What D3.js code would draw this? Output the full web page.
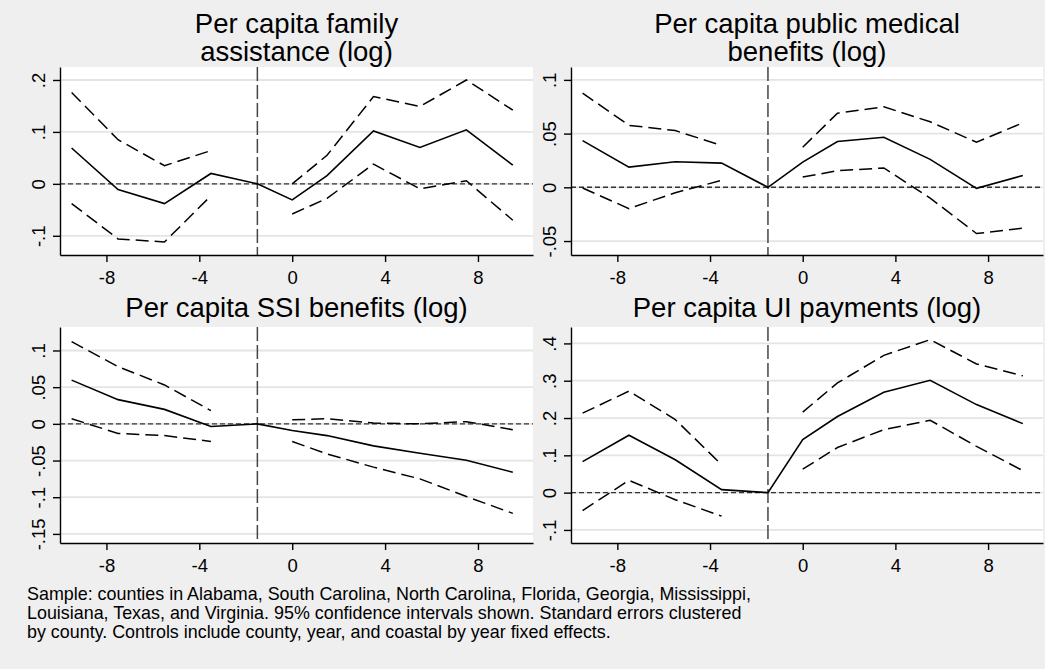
<!DOCTYPE html>
<html>
<head>
<meta charset="utf-8">
<script src="https://cdn.jsdelivr.net/npm/d3@7"></script>
<style>
  body { margin: 0; background: #efefef; }
  svg { display: block; font-family: "Liberation Sans", Arial, sans-serif; }
</style>
</head>
<body>
<svg id="chart" width="1045" height="669"></svg>
<script>
// event-time bins (years relative to the shock), shared by all panels
var bins = [-9.5, -7.5, -5.5, -3.5, -1.5, 0, 1.5, 3.5, 5.5, 7.5, 9.5];
var pre_bins = [-9.5, -7.5, -5.5, -3.5];
var post_bins = [0, 1.5, 3.5, 5.5, 7.5, 9.5];
var omitted_bin = -1.5;
var x_ticks = [-8, -4, 0, 4, 8];

var titles = [
    ["Per capita family", "assistance (log)"],
    ["Per capita public medical", "benefits (log)"],
    ["Per capita SSI benefits (log)"],
    ["Per capita UI payments (log)"]
];

// point estimates
var coef_family = [0.069, -0.011, -0.038, 0.020, 0, -0.031, 0.016, 0.102, 0.070, 0.104, 0.036];
var coef_medical = [0.0435, 0.0188, 0.0238, 0.0225, 0, 0.0235, 0.0426, 0.0466, 0.026, -0.001, 0.011];
var coef_ssi = [0.0596, 0.033, 0.0197, -0.0037, 0, -0.009, -0.016, -0.030, -0.040, -0.0495, -0.066];
var coef_ui = [0.083, 0.154, 0.088, 0.008, 0, 0.142, 0.204, 0.269, 0.301, 0.236, 0.185];

// 95% confidence bounds, before and after
var upper_pre_family = [0.176, 0.085, 0.035, 0.064];
var lower_pre_family = [-0.038, -0.106, -0.112, -0.023];
var upper_post_family = [0.0, 0.055, 0.168, 0.149, 0.200, 0.142];
var lower_post_family = [-0.058, -0.028, 0.038, -0.0096, 0.006, -0.070];

var upper_pre_medical = [0.0877, 0.0577, 0.0528, 0.039];
var lower_pre_medical = [-0.0006, -0.0198, -0.005, 0.0065];
var upper_post_medical = [0.0373, 0.069, 0.075, 0.061, 0.042, 0.060];
var lower_post_medical = [0.0096, 0.0154, 0.018, -0.010, -0.043, -0.038];

var upper_pre_ssi = [0.112, 0.078, 0.053, 0.018];
var lower_pre_ssi = [0.007, -0.013, -0.016, -0.024];
var upper_post_ssi = [0.0055, 0.007, 0.001, 0.0, 0.003, -0.008];
var lower_post_ssi = [-0.024, -0.041, -0.059, -0.075, -0.099, -0.122];

var upper_pre_ui = [0.213, 0.272, 0.196, 0.075];
var lower_pre_ui = [-0.048, 0.033, -0.019, -0.063];
var upper_post_ui = [0.216, 0.294, 0.368, 0.410, 0.345, 0.313];
var lower_post_ui = [0.063, 0.121, 0.169, 0.194, 0.124, 0.059];

// y axis ticks and their Stata-style labels
var y_ticks_family = [-0.1, 0, 0.1, 0.2];
var y_labels_family = ["-.1", "0", ".1", ".2"];
var y_ticks_medical = [-0.05, 0, 0.05, 0.1];
var y_labels_medical = ["-.05", "0", ".05", ".1"];
var y_ticks_ssi = [-0.15, -0.1, -0.05, 0, 0.05, 0.1];
var y_labels_ssi = ["-.15", "-.1", "-.05", "0", ".05", ".1"];
var y_ticks_ui = [-0.1, 0, 0.1, 0.2, 0.3, 0.4];
var y_labels_ui = ["-.1", "0", ".1", ".2", ".3", ".4"];

var footnote = [
    "Sample: counties in Alabama, South Carolina, North Carolina, Florida, Georgia, Mississippi,",
    "Louisiana, Texas, and Virginia. 95% confidence intervals shown. Standard errors clustered",
    "by county. Controls include county, year, and coastal by year fixed effects."
];

var panels = [
    {title: titles[0], coef: coef_family, up_pre: upper_pre_family, lo_pre: lower_pre_family,
     up_post: upper_post_family, lo_post: lower_post_family, ticks: y_ticks_family, labels: y_labels_family,
     ydom: [-0.137, 0.225], col: 0, row: 0},
    {title: titles[1], coef: coef_medical, up_pre: upper_pre_medical, lo_pre: lower_pre_medical,
     up_post: upper_post_medical, lo_post: lower_post_medical, ticks: y_ticks_medical, labels: y_labels_medical,
     ydom: [-0.063, 0.112], col: 1, row: 0},
    {title: titles[2], coef: coef_ssi, up_pre: upper_pre_ssi, lo_pre: lower_pre_ssi,
     up_post: upper_post_ssi, lo_post: lower_post_ssi, ticks: y_ticks_ssi, labels: y_labels_ssi,
     ydom: [-0.1624, 0.132], col: 0, row: 1},
    {title: titles[3], coef: coef_ui, up_pre: upper_pre_ui, lo_pre: lower_pre_ui,
     up_post: upper_post_ui, lo_post: lower_post_ui, ticks: y_ticks_ui, labels: y_labels_ui,
     ydom: [-0.135, 0.444], col: 1, row: 1}
];

var col_left = [60, 571];
var col_right = [533, 1043];
var row_top = [67, 327];
var row_bottom = [255, 543];

var svg = d3.select("#chart");

svg.append("rect")
    .attr("width", 1045)
    .attr("height", 669)
    .attr("fill", "#efefef");

panels.forEach(function(p) { draw_panel(p); });

svg.append("g")
    .selectAll("text")
    .data(footnote)
    .enter().append("text")
        .attr("x", 27)
        .attr("y", function(d, i) { return 600 + i * 19; })
        .attr("font-size", 17.9)
        .attr("fill", "#000")
        .text(d => d);

function draw_panel(p) {
    var left = col_left[p.col], right = col_right[p.col];
    var top = row_top[p.row], bottom = row_bottom[p.row];

    var x = d3.scaleLinear().domain([-10, 10.37]).range([left, right]);
    var y = d3.scaleLinear().domain(p.ydom).range([bottom, top]);

    var g = svg.append("g").attr("class", "panel");

    g.append("rect")
        .attr("x", left)
        .attr("y", top)
        .attr("width", right - left)
        .attr("height", bottom - top)
        .attr("fill", "#fff");

    // horizontal grid
    g.append("g")
        .selectAll("line")
        .data(p.ticks)
        .enter().append("line")
            .attr("x1", left)
            .attr("x2", right)
            .attr("y1", d => y(d))
            .attr("y2", d => y(d))
            .attr("stroke", "#e4e4e4")
            .attr("stroke-width", 1.8);

    // reference lines
    g.append("line")
        .attr("x1", left)
        .attr("x2", right)
        .attr("y1", y(0))
        .attr("y2", y(0))
        .attr("stroke", "#333")
        .attr("stroke-width", 1.4)
        .attr("stroke-dasharray", "5,3");

    g.append("line")
        .attr("x1", x(omitted_bin))
        .attr("x2", x(omitted_bin))
        .attr("y1", top)
        .attr("y2", bottom)
        .attr("stroke", "#444")
        .attr("stroke-width", 1.5)
        .attr("stroke-dasharray", "14,4");

    var line = d3.line()
        .x(d => x(d[0]))
        .y(d => y(d[1]));

    var ci_sets = [
        d3.zip(pre_bins, p.up_pre),
        d3.zip(pre_bins, p.lo_pre),
        d3.zip(post_bins, p.up_post),
        d3.zip(post_bins, p.lo_post)
    ];

    g.append("g")
        .selectAll("path")
        .data(ci_sets)
        .enter().append("path")
            .attr("d", line)
            .attr("fill", "none")
            .attr("stroke", "#000")
            .attr("stroke-width", 1.5)
            .attr("stroke-dasharray", "13,6");

    g.append("path")
        .attr("d", line(d3.zip(bins, p.coef)))
        .attr("fill", "none")
        .attr("stroke", "#000")
        .attr("stroke-width", 1.6);

    // axes
    var y_axis = g.append("g")
        .attr("transform", "translate(" + left + ",0)")
        .call(d3.axisLeft(y)
            .tickValues(p.ticks)
            .tickFormat((d, i) => p.labels[i])
            .tickSize(7)
            .tickSizeOuter(0));

    y_axis.selectAll("text")
        .attr("transform", "rotate(-90)")
        .attr("x", 0)
        .attr("y", -15.5)
        .attr("dy", 0)
        .attr("text-anchor", "middle");

    var x_axis = g.append("g")
        .attr("transform", "translate(0," + bottom + ")")
        .call(d3.axisBottom(x)
            .tickValues(x_ticks)
            .tickFormat(d => String(d))
            .tickSize(7)
            .tickPadding(9)
            .tickSizeOuter(0));

    [y_axis, x_axis].forEach(function(a) {
        a.attr("font-family", null).attr("font-size", 18.5);
        a.select(".domain").attr("stroke", "#000").attr("stroke-width", 1.4);
        a.selectAll(".tick line").attr("stroke", "#000").attr("stroke-width", 1.4);
        a.selectAll("text").attr("fill", "#000");
    });

    // title, one or two lines
    var mid = (left + right) / 2;
    var base = p.title.length == 2 ? [33, 61] : [top - 10];
    g.append("g")
        .selectAll("text")
        .data(p.title)
        .enter().append("text")
            .attr("x", mid)
            .attr("y", (d, i) => base[i])
            .attr("text-anchor", "middle")
            .attr("font-size", 27.5)
            .attr("fill", "#000")
            .text(d => d);
}
</script>
</body>
</html>
